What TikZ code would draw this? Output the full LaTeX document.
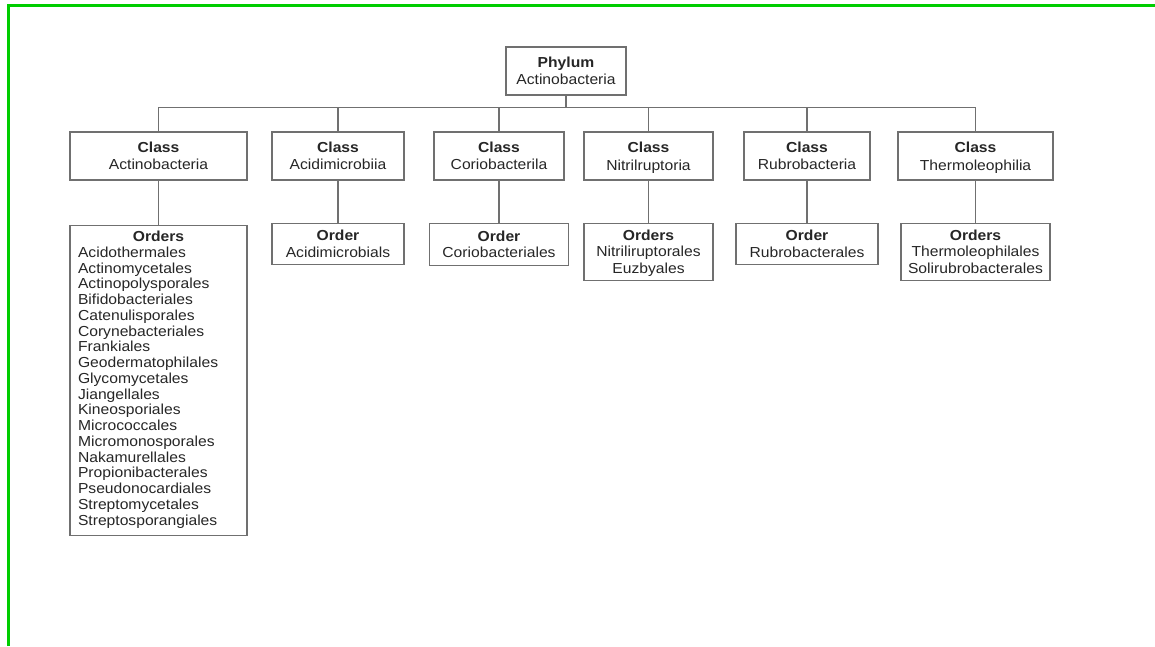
\documentclass[tikz,border=0pt]{standalone}
\usepackage{fontspec}
\setmainfont[FakeStretch=1.08]{Liberation Sans}
\usetikzlibrary{positioning}

\definecolor{linegray}{RGB}{112,112,112}
\definecolor{framegreen}{RGB}{0,205,0}
\newcommand{\nodepth}[1]{\raisebox{0pt}[\height][0pt]{#1}}

\tikzset{
  box/.style={draw=linegray, line width=1.2pt, align=center, inner sep=0pt,
    text=black!85, font=\fontsize{14.5}{17.6}\selectfont, minimum height=48pt},
  orderbox/.style={box, font=\fontsize{14.5}{16.6}\selectfont, minimum height=41pt},
  link/.style={draw=linegray, line width=1.2pt}
}

\begin{document}
\begin{tikzpicture}[x=1pt,y=-1pt]

\useasboundingbox (0,0) rectangle (1155,646);
\draw[framegreen, line width=3pt] (8,646) -- (8,5) -- (1160,5);

\node[box, minimum width=120pt] (phylum) at (566,71) {\textbf{Phylum}\\Actinobacteria};

\node[box, minimum width=177pt] (actino) at (158.5,156) {\textbf{Class}\\Actinobacteria};
\node[box, minimum width=132pt] (acidi) at (338,156) {\textbf{Class}\\Acidimicrobiia};
\node[box, minimum width=130pt] (corio) at (499,156) {\textbf{Class}\\Coriobacterila};
\node[box, minimum width=129pt] (nitril) at (648.5,156) {\textbf{Class}\\\nodepth{Nitrilruptoria}};
\node[box, minimum width=126pt] (rubro) at (807,156) {\textbf{Class}\\Rubrobacteria};
\node[box, minimum width=155pt] (thermo) at (975.5,156) {\textbf{Class}\\\nodepth{Thermoleophilia}};

\node[orderbox, below=44pt of actino, minimum width=177pt, minimum height=310pt] (oactino) {%
  \fontsize{14.5}{15.75}\selectfont
  \begin{tabular}{@{}p{161pt}@{}}
  \multicolumn{1}{@{}c@{}}{\textbf{Orders}}\\
  Acidothermales\\ Actinomycetales\\ Actinopolysporales\\ Bifidobacteriales\\
  Catenulisporales\\ Corynebacteriales\\ Frankiales\\ Geodermatophilales\\
  Glycomycetales\\ Jiangellales\\ Kineosporiales\\ Micrococcales\\
  Micromonosporales\\ Nakamurellales\\ Propionibacterales\\ Pseudonocardiales\\
  Streptomycetales\\ Streptosporangiales
  \end{tabular}};
\node[orderbox, below=42pt of acidi, minimum width=132pt] (oacidi) {\textbf{Order}\\Acidimicrobials};
\node[orderbox, below=42pt of corio, minimum width=139pt, minimum height=42pt] (ocorio) {\textbf{Order}\\Coriobacteriales};
\node[orderbox, below=42pt of nitril, minimum width=129pt, minimum height=57pt] (onitril) {\textbf{Orders}\\Nitriliruptorales\\\nodepth{Euzbyales}};
\node[orderbox, below=42pt of rubro, minimum width=142pt] (orubro) {\textbf{Order}\\Rubrobacterales};
\node[orderbox, below=42pt of thermo, minimum width=149pt, minimum height=57pt] (othermo) {\textbf{Orders}\\Thermoleophilales\\Solirubrobacterales};

\foreach \c in {actino,acidi,corio,nitril,rubro,thermo}
  \draw[link] (phylum.south) -- ++(0,12) -| (\c.north);

\draw[link] (actino.south) -- (oactino.north);
\draw[link] (acidi.south) -- (oacidi.north);
\draw[link] (corio.south) -- (ocorio.north);
\draw[link] (nitril.south) -- (onitril.north);
\draw[link] (rubro.south) -- (orubro.north);
\draw[link] (thermo.south) -- (othermo.north);

\end{tikzpicture}
\end{document}
